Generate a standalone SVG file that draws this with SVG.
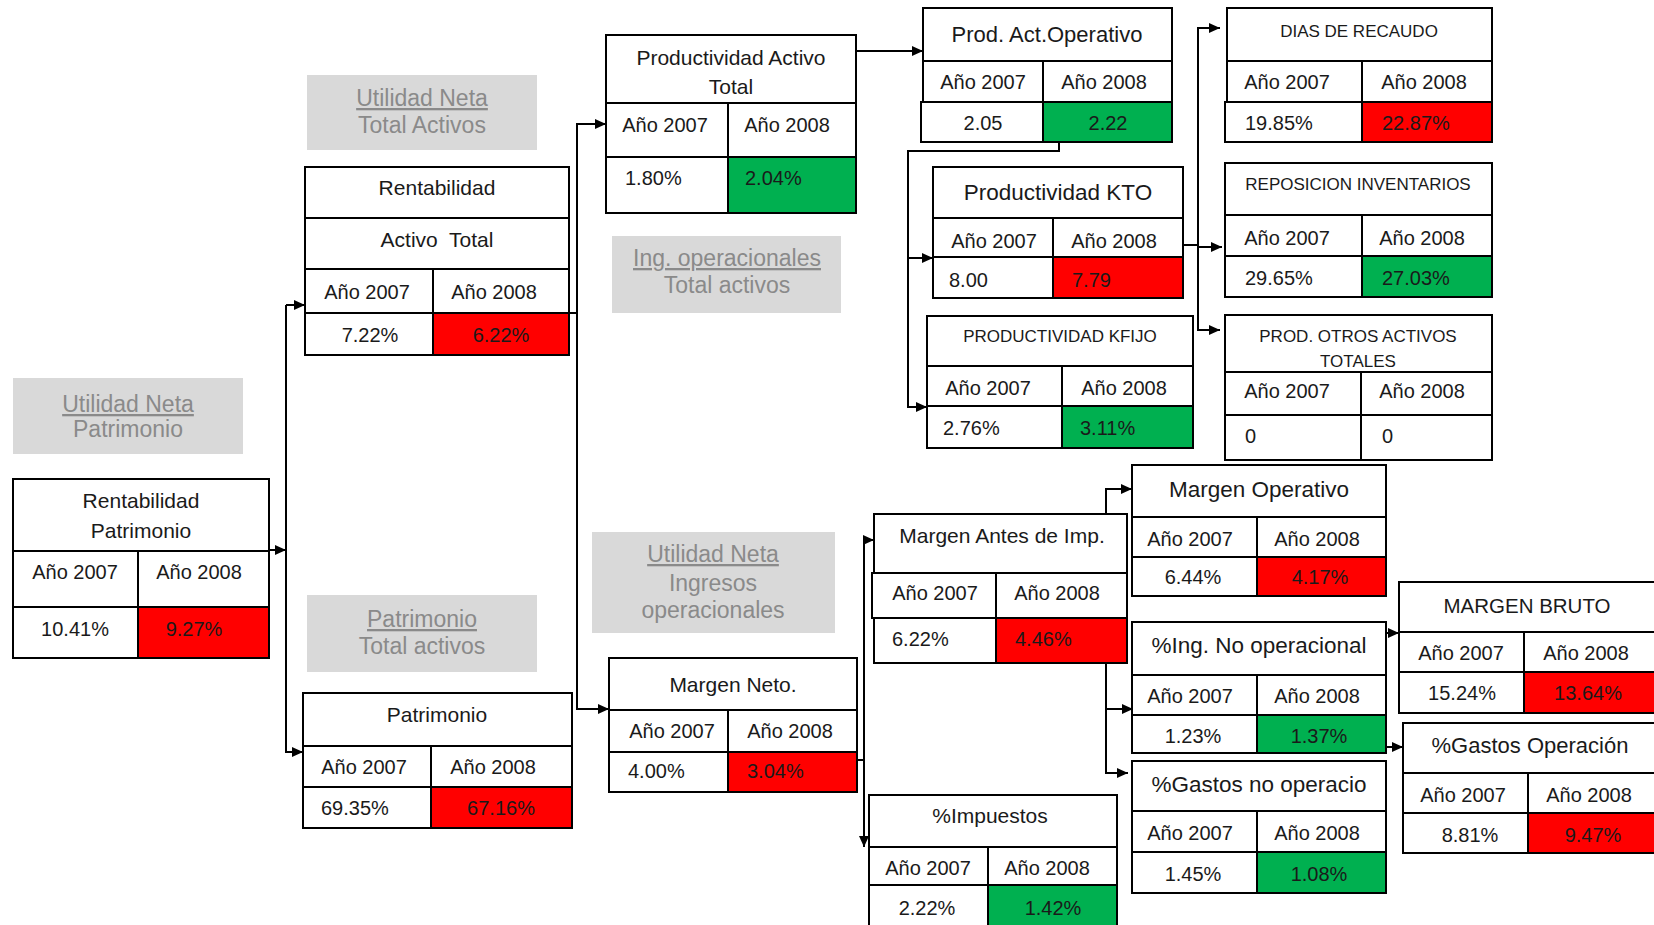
<svg xmlns="http://www.w3.org/2000/svg" width="1654" height="925" viewBox="0 0 1654 925">
<defs>
<style>
.b{fill:#fff;stroke:#000;stroke-width:2}
.r{fill:#ff0000;stroke:#000;stroke-width:2}
.g{fill:#00b050;stroke:#000;stroke-width:2}
.ln{fill:none;stroke:#000;stroke-width:2}
.gb{fill:#d9d9d9}
text{font-family:"Liberation Sans",Arial,sans-serif;font-size:20px;fill:#1a1a1a}
.c{text-anchor:middle}
.h{font-size:21px}
.h2{font-size:22px}
.h3{font-size:22.5px}
.cap{font-size:17px}
.gt{font-size:23px;fill:#8a8a8a;text-anchor:middle}
.u{text-decoration:underline}
</style>
<marker id="ah" markerUnits="userSpaceOnUse" markerWidth="12" markerHeight="12" refX="11" refY="5" orient="auto">
<path d="M0,0 L11,5 L0,10 z" fill="#000"/>
</marker>
</defs>
<rect width="1654" height="925" fill="#fff"/>

<g id="labels">
<g id="lbl_roe"><rect class="gb" x="13" y="378" width="230" height="76"/><text class="gt u" x="128" y="412">Utilidad Neta</text><text class="gt" x="128" y="437">Patrimonio</text></g>
<g id="lbl_roa"><rect class="gb" x="307" y="75" width="230" height="75"/><text class="gt u" x="422" y="106">Utilidad Neta</text><text class="gt" x="422" y="133">Total Activos</text></g>
<g id="lbl_pat"><rect class="gb" x="307" y="595" width="230" height="77"/><text class="gt u" x="422" y="627">Patrimonio</text><text class="gt" x="422" y="654">Total activos</text></g>
<g id="lbl_pat_total"><rect class="gb" x="612" y="236" width="229" height="77"/><text class="gt u" x="727" y="266">Ing. operacionales</text><text class="gt" x="727" y="293">Total activos</text></g>
<g id="lbl_mn"><rect class="gb" x="592" y="532" width="243" height="101"/><text class="gt u" x="713" y="562">Utilidad Neta</text><text class="gt" x="713" y="591">Ingresos</text><text class="gt" x="713" y="618">operacionales</text></g>
</g>

<g id="connectors">
<line class="ln" x1="269" y1="550" x2="286" y2="550" marker-end="url(#ah)"/>
<line class="ln" x1="286" y1="305" x2="286" y2="753"/>
<line class="ln" x1="286" y1="305" x2="305" y2="305" marker-end="url(#ah)"/>
<line class="ln" x1="286" y1="752" x2="303" y2="752" marker-end="url(#ah)"/>
<line class="ln" x1="569" y1="313" x2="577" y2="313"/>
<line class="ln" x1="577" y1="123" x2="577" y2="710"/>
<line class="ln" x1="576" y1="124" x2="606" y2="124" marker-end="url(#ah)"/>
<line class="ln" x1="576" y1="709" x2="609" y2="709" marker-end="url(#ah)"/>
<line class="ln" x1="856" y1="51" x2="923" y2="51" marker-end="url(#ah)"/>
<polyline class="ln" points="1059,142 1059,151 908,151 908,407"/>
<line class="ln" x1="908" y1="258" x2="933" y2="258" marker-end="url(#ah)"/>
<line class="ln" x1="907" y1="407" x2="927" y2="407" marker-end="url(#ah)"/>
<line class="ln" x1="1183" y1="245" x2="1198" y2="245"/>
<line class="ln" x1="1198" y1="27" x2="1198" y2="331"/>
<line class="ln" x1="1197" y1="28" x2="1220" y2="28" marker-end="url(#ah)"/>
<line class="ln" x1="1198" y1="247" x2="1222" y2="247" marker-end="url(#ah)"/>
<line class="ln" x1="1197" y1="330" x2="1220" y2="330" marker-end="url(#ah)"/>
<line class="ln" x1="857" y1="760" x2="864" y2="760"/>
<line class="ln" x1="864" y1="539" x2="864" y2="847" marker-end="url(#ah)"/>
<line class="ln" x1="863" y1="540" x2="874" y2="540" marker-end="url(#ah)"/>
<polyline class="ln" points="1106,514 1106,489 1132,489" marker-end="url(#ah)"/>
<polyline class="ln" points="1106,663 1106,773 1128,773" marker-end="url(#ah)"/>
<line class="ln" x1="1106" y1="709" x2="1133" y2="709" marker-end="url(#ah)"/>
<line class="ln" x1="1386" y1="633" x2="1399" y2="633" marker-end="url(#ah)"/>
<line class="ln" x1="1386" y1="747" x2="1403" y2="747" marker-end="url(#ah)"/>
</g>

<g id="n_rent_patrimonio">
<rect class="b" x="13" y="479" width="256" height="72"/>
<rect class="b" x="13" y="551" width="125" height="56"/><rect class="b" x="138" y="551" width="131" height="56"/>
<rect class="b" x="13" y="607" width="125" height="51"/><rect class="r" x="138" y="607" width="131" height="51"/>
<text class="c h" x="141" y="508">Rentabilidad</text><text class="c h" x="141" y="538">Patrimonio</text>
<text class="c" x="75" y="579">Año 2007</text><text class="c" x="199" y="579">Año 2008</text>
<text class="c" x="75" y="636">10.41%</text><text class="c" x="194" y="636">9.27%</text>
</g>

<g id="n_rent_activo">
<rect class="b" x="305" y="167" width="264" height="51"/>
<rect class="b" x="305" y="218" width="264" height="51"/>
<rect class="b" x="305" y="269" width="128" height="44"/><rect class="b" x="433" y="269" width="136" height="44"/>
<rect class="b" x="305" y="313" width="128" height="42"/><rect class="r" x="433" y="313" width="136" height="42"/>
<text class="c h" x="437" y="195">Rentabilidad</text><text class="c h" x="437" y="247" style="white-space:pre">Activo  Total</text>
<text class="c" x="367" y="299">Año 2007</text><text class="c" x="494" y="299">Año 2008</text>
<text class="c" x="370" y="342">7.22%</text><text class="c" x="501" y="342">6.22%</text>
</g>

<g id="n_patrimonio">
<rect class="b" x="303" y="693" width="269" height="53"/>
<rect class="b" x="303" y="746" width="128" height="41"/><rect class="b" x="431" y="746" width="141" height="41"/>
<rect class="b" x="303" y="787" width="128" height="41"/><rect class="r" x="431" y="787" width="141" height="41"/>
<text class="c h" x="437" y="722">Patrimonio</text>
<text class="c" x="364" y="774">Año 2007</text><text class="c" x="493" y="774">Año 2008</text>
<text x="321" y="815">69.35%</text><text class="c" x="501" y="815">67.16%</text>
</g>

<g id="n_prod_activo_total">
<rect class="b" x="606" y="35" width="250" height="68"/>
<rect class="b" x="606" y="103" width="122" height="54"/><rect class="b" x="728" y="103" width="128" height="54"/>
<rect class="b" x="606" y="157" width="122" height="56"/><rect class="g" x="728" y="157" width="128" height="56"/>
<text class="c h" x="731" y="65">Productividad Activo</text><text class="c h" x="731" y="94">Total</text>
<text class="c" x="665" y="132">Año 2007</text><text class="c" x="787" y="132">Año 2008</text>
<text x="625" y="185">1.80%</text><text x="745" y="185">2.04%</text>
</g>

<g id="n_margen_neto">
<rect class="b" x="609" y="658" width="248" height="52"/>
<rect class="b" x="609" y="710" width="119" height="42"/><rect class="b" x="728" y="710" width="129" height="42"/>
<rect class="b" x="609" y="752" width="119" height="40"/><rect class="r" x="728" y="752" width="129" height="40"/>
<text class="c h" x="733" y="692">Margen Neto.</text>
<text class="c" x="672" y="738">Año 2007</text><text class="c" x="790" y="738">Año 2008</text>
<text x="628" y="778">4.00%</text><text x="747" y="778">3.04%</text>
</g>

<g id="n_prod_act_operativo">
<rect class="b" x="923" y="8" width="249" height="53"/>
<rect class="b" x="923" y="61" width="120" height="41"/><rect class="b" x="1043" y="61" width="129" height="41"/>
<rect class="b" x="921" y="102" width="122" height="40"/><rect class="g" x="1043" y="102" width="129" height="40"/>
<text class="c h2" x="1047" y="42">Prod. Act.Operativo</text>
<text class="c" x="983" y="89">Año 2007</text><text class="c" x="1104" y="89">Año 2008</text>
<text class="c" x="983" y="130">2.05</text><text class="c" x="1108" y="130">2.22</text>
</g>

<g id="n_prod_kto">
<rect class="b" x="933" y="167" width="250" height="51"/>
<rect class="b" x="933" y="218" width="120" height="39"/><rect class="b" x="1053" y="218" width="130" height="39"/>
<rect class="b" x="933" y="257" width="120" height="41"/><rect class="r" x="1053" y="257" width="130" height="41"/>
<text class="c h3" x="1058" y="200">Productividad KTO</text>
<text class="c" x="994" y="248">Año 2007</text><text class="c" x="1114" y="248">Año 2008</text>
<text x="949" y="287">8.00</text><text x="1072" y="287">7.79</text>
</g>

<g id="n_prod_kfijo">
<rect class="b" x="927" y="316" width="266" height="50"/>
<rect class="b" x="927" y="366" width="135" height="40"/><rect class="b" x="1062" y="366" width="131" height="40"/>
<rect class="b" x="927" y="406" width="135" height="42"/><rect class="g" x="1062" y="406" width="131" height="42"/>
<text class="c cap" x="1060" y="342">PRODUCTIVIDAD KFIJO</text>
<text class="c" x="988" y="395">Año 2007</text><text class="c" x="1124" y="395">Año 2008</text>
<text x="943" y="435">2.76%</text><text x="1080" y="435">3.11%</text>
</g>

<g id="n_dias_recaudo">
<rect class="b" x="1227" y="8" width="265" height="53"/>
<rect class="b" x="1227" y="61" width="135" height="41"/><rect class="b" x="1362" y="61" width="130" height="41"/>
<rect class="b" x="1225" y="102" width="137" height="40"/><rect class="r" x="1362" y="102" width="130" height="40"/>
<text class="c cap" x="1359" y="37">DIAS DE RECAUDO</text>
<text class="c" x="1287" y="89">Año 2007</text><text class="c" x="1424" y="89">Año 2008</text>
<text x="1245" y="130">19.85%</text><text x="1382" y="130">22.87%</text>
</g>

<g id="n_reposicion">
<rect class="b" x="1225" y="163" width="267" height="52"/>
<rect class="b" x="1225" y="215" width="137" height="41"/><rect class="b" x="1362" y="215" width="130" height="41"/>
<rect class="b" x="1225" y="256" width="137" height="41"/><rect class="g" x="1362" y="256" width="130" height="41"/>
<text class="c cap" x="1358" y="190">REPOSICION INVENTARIOS</text>
<text class="c" x="1287" y="245">Año 2007</text><text class="c" x="1422" y="245">Año 2008</text>
<text x="1245" y="285">29.65%</text><text x="1382" y="285">27.03%</text>
</g>

<g id="n_otros_activos">
<rect class="b" x="1225" y="315" width="267" height="57"/>
<rect class="b" x="1225" y="372" width="136" height="43"/><rect class="b" x="1361" y="372" width="131" height="43"/>
<rect class="b" x="1225" y="415" width="136" height="45"/><rect class="b" x="1361" y="415" width="131" height="45"/>
<text class="c cap" x="1358" y="342">PROD. OTROS ACTIVOS</text><text class="c cap" x="1358" y="367">TOTALES</text>
<text class="c" x="1287" y="398">Año 2007</text><text class="c" x="1422" y="398">Año 2008</text>
<text x="1245" y="443">0</text><text x="1382" y="443">0</text>
</g>

<g id="n_margen_antes">
<rect class="b" x="874" y="514" width="253" height="59"/>
<rect class="b" x="872" y="573" width="124" height="45"/><rect class="b" x="996" y="573" width="131" height="45"/>
<rect class="b" x="874" y="618" width="122" height="45"/><rect class="r" x="996" y="618" width="131" height="45"/>
<text class="c h" x="1002" y="543">Margen Antes de Imp.</text>
<text class="c" x="935" y="600">Año 2007</text><text class="c" x="1057" y="600">Año 2008</text>
<text x="892" y="646">6.22%</text><text x="1015" y="646">4.46%</text>
</g>

<g id="n_impuestos">
<rect class="b" x="869" y="795" width="248" height="52"/>
<rect class="b" x="869" y="847" width="119" height="38"/><rect class="b" x="988" y="847" width="129" height="38"/>
<rect class="b" x="869" y="885" width="119" height="45"/><rect class="g" x="988" y="885" width="129" height="45"/>
<text class="c h" x="990" y="823">%Impuestos</text>
<text class="c" x="928" y="875">Año 2007</text><text class="c" x="1047" y="875">Año 2008</text>
<text class="c" x="927" y="915">2.22%</text><text class="c" x="1053" y="915">1.42%</text>
</g>

<g id="n_margen_operativo">
<rect class="b" x="1132" y="465" width="254" height="52"/>
<rect class="b" x="1132" y="517" width="125" height="40"/><rect class="b" x="1257" y="517" width="129" height="40"/>
<rect class="b" x="1132" y="557" width="125" height="39"/><rect class="r" x="1257" y="557" width="129" height="39"/>
<text class="c h3" x="1259" y="497">Margen Operativo</text>
<text class="c" x="1190" y="546">Año 2007</text><text class="c" x="1317" y="546">Año 2008</text>
<text class="c" x="1193" y="584">6.44%</text><text class="c" x="1320" y="584">4.17%</text>
</g>

<g id="n_ing_no_operacional">
<rect class="b" x="1132" y="622" width="254" height="53"/>
<rect class="b" x="1132" y="675" width="125" height="40"/><rect class="b" x="1257" y="675" width="129" height="40"/>
<rect class="b" x="1132" y="715" width="125" height="38"/><rect class="g" x="1257" y="715" width="129" height="38"/>
<text class="c h3" x="1259" y="653">%Ing. No operacional</text>
<text class="c" x="1190" y="703">Año 2007</text><text class="c" x="1317" y="703">Año 2008</text>
<text class="c" x="1193" y="743">1.23%</text><text class="c" x="1319" y="743">1.37%</text>
</g>

<g id="n_gastos_no_operacio">
<rect class="b" x="1132" y="761" width="254" height="50"/>
<rect class="b" x="1132" y="811" width="125" height="41"/><rect class="b" x="1257" y="811" width="129" height="41"/>
<rect class="b" x="1132" y="852" width="125" height="41"/><rect class="g" x="1257" y="852" width="129" height="41"/>
<text class="c h3" x="1259" y="792">%Gastos no operacio</text>
<text class="c" x="1190" y="840">Año 2007</text><text class="c" x="1317" y="840">Año 2008</text>
<text class="c" x="1193" y="881">1.45%</text><text class="c" x="1319" y="881">1.08%</text>
</g>

<g id="n_margen_bruto">
<rect class="b" x="1399" y="582" width="261" height="50"/>
<rect class="b" x="1399" y="632" width="125" height="40"/><rect class="b" x="1524" y="632" width="136" height="40"/>
<rect class="b" x="1399" y="672" width="125" height="41"/><rect class="r" x="1524" y="672" width="136" height="41"/>
<text class="c" x="1527" y="613" style="font-size:20.5px">MARGEN BRUTO</text>
<text class="c" x="1461" y="660">Año 2007</text><text class="c" x="1586" y="660">Año 2008</text>
<text class="c" x="1462" y="700">15.24%</text><text class="c" x="1588" y="700">13.64%</text>
</g>

<g id="n_gastos_operacion">
<rect class="b" x="1403" y="723" width="257" height="50"/>
<rect class="b" x="1403" y="773" width="125" height="40"/><rect class="b" x="1528" y="773" width="132" height="40"/>
<rect class="b" x="1403" y="813" width="125" height="40"/><rect class="r" x="1528" y="813" width="132" height="40"/>
<text class="c h2" x="1530" y="753">%Gastos Operación</text>
<text class="c" x="1463" y="802">Año 2007</text><text class="c" x="1589" y="802">Año 2008</text>
<text class="c" x="1470" y="842">8.81%</text><text class="c" x="1593" y="842">9.47%</text>
</g>
</svg>
